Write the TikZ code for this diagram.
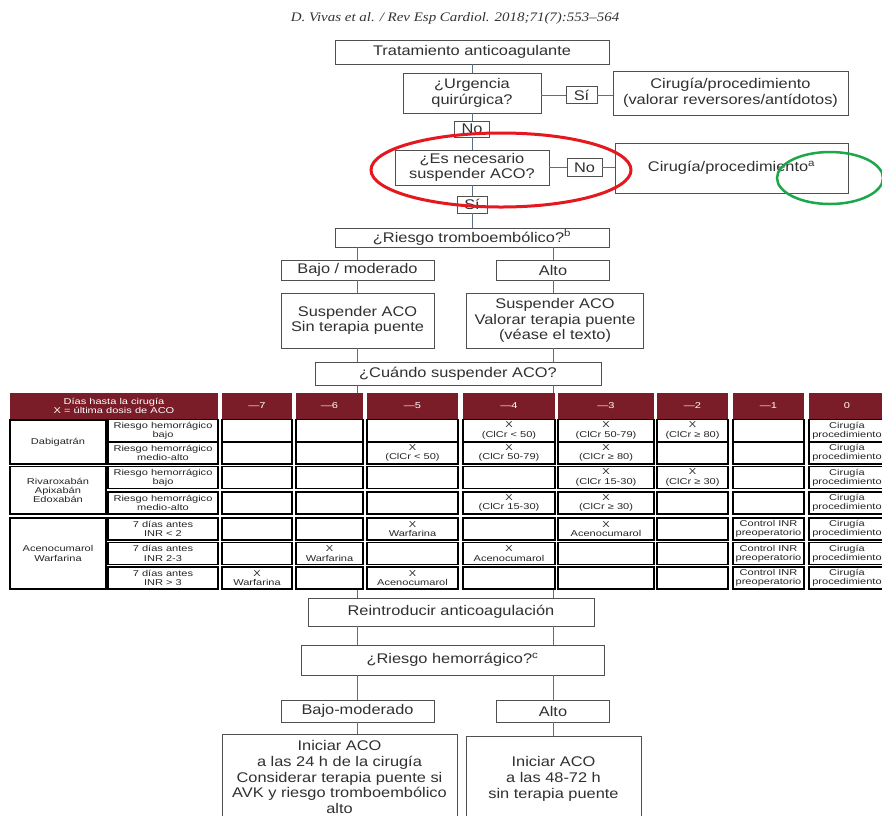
\documentclass[tikz,border=0pt]{standalone}
\usepackage{fontspec}
\setmainfont[FakeStretch=1.17]{Liberation Sans}
\newfontfamily\tabfont[FakeStretch=1.3]{Liberation Sans}
\newfontfamily\jrnfont[FakeStretch=1.15]{Liberation Serif}
\definecolor{boxgray}{HTML}{505050}
\definecolor{txtgray}{HTML}{303030}
\definecolor{linkblue}{HTML}{5E6E84}
\definecolor{acored}{HTML}{7A1D29}
\definecolor{markred}{HTML}{E5171F}
\definecolor{markgreen}{HTML}{1DA64A}
\tikzset{
  sz/.style 2 args={minimum width=#1pt,minimum height=#2pt},
  fbox/.style={draw=boxgray,line width=0.9pt,fill=white,text=txtgray,align=center,inner sep=1pt,font=\fontsize{14}{15.7}\selectfont},
  link/.style={draw=linkblue,line width=0.9pt},
  hcell/.style={fill=acored,text=white,align=center,inner sep=0pt,font=\tabfont\fontsize{8.5}{9.5}\selectfont},
  cell/.style={draw=black,line width=1.1pt,fill=white,text=black!85,align=center,inner sep=0pt,font=\tabfont\fontsize{8.5}{9.3}\selectfont},
  ctxt/.style={text=black!85,align=center,inner sep=0pt,font=\tabfont\fontsize{8.5}{9.3}\selectfont},
}
\begin{document}
\begin{tikzpicture}[x=1pt,y=-1pt]
    \fill[white] (0,0) rectangle (882,815);
    \useasboundingbox (0,0) rectangle (882,815);
    \node[font=\jrnfont\itshape\fontsize{13}{15}\selectfont,text=black!80] (jrnl) at (455,18) {D. Vivas et al. / Rev Esp Cardiol. 2018;71(7):553–564};
    % upper flow chart
    \node[fbox,sz={274}{24}] (trat) at (472,52) {Tratamiento anticoagulante};
    \node[fbox,sz={138}{40}] (urg) at (472,93) {¿Urgencia\\quirúrgica?};
    \node[fbox,sz={31}{17}] (si1) at (581.5,95) {Sí};
    \node[fbox,sz={235}{44}] (cir1) at (730.5,93) {Cirugía/procedimiento\\(valorar reversores/antídotos)};
    \node[fbox,sz={35}{16}] (no1) at (472,129) {No};
    \node[fbox,sz={154}{35}] (nec) at (472,167.5) {¿Es necesario\\suspender ACO?};
    \node[fbox,sz={35}{18}] (no2) at (584.5,167.5) {No};
    \node[fbox,sz={233}{50}] (cir2) at (731.5,168) {Cirugía/procedimiento\textsuperscript{a}};
    \node[fbox,sz={30}{17}] (si2) at (472,204.5) {Sí};
    \node[fbox,sz={274}{19}] (trombo) at (472,237.5) {¿Riesgo tromboembólico?\textsuperscript{b}};
    \node[fbox,sz={153}{20}] (bajo1) at (357.5,270) {Bajo / moderado};
    \node[fbox,sz={113}{20}] (alto1) at (553,270) {Alto};
    \node[fbox,sz={153}{55}] (susp1) at (357.5,320.5) {Suspender ACO\\Sin terapia puente};
    \node[fbox,sz={177}{55}] (susp2) at (555,320.5) {Suspender ACO\\Valorar terapia puente\\(véase el texto)};
    \node[fbox,sz={286}{23}] (cuando) at (458,373.5) {¿Cuándo suspender ACO?};
    \draw[link] (trat) -- (urg);
    \draw[link] (urg) -- (no1);
    \draw[link] (no1) -- (nec);
    \draw[link] (nec) -- (si2);
    \draw[link] (si2) -- (trombo);
    \draw[link] (urg.east |- si1.west) -- (si1.west);
    \draw[link] (si1.east) -- (cir1.west |- si1.east);
    \draw[link] (nec.east |- no2.west) -- (no2.west);
    \draw[link] (no2.east) -- (cir2.west |- no2.east);
    \draw[link] (trombo.south -| bajo1) -- (bajo1.north);
    \draw[link] (trombo.south -| alto1) -- (alto1.north);
    \draw[link] (bajo1) -- (susp1);
    \draw[link] (alto1.south) -- (alto1.south |- susp2.north);
    \draw[link] (susp1.south) -- (susp1.south |- cuando.north);
    \draw[link] (susp2.south -| alto1) -- (cuando.north -| alto1);
    % table
    \node[hcell,sz={208}{26}] (htit) at (114,406) {Días hasta la cirugía\\X = última dosis de ACO};
    \foreach \c/\xl/\xr/\lab in {m7/222/292/{—7},m6/296/363/{—6},m5/367/458/{—5},m4/463/555/{—4},m3/558/654/{—3},m2/657/728/{—2},m1/733/804/{—1},z/809/885/{0}}
        {\node[hcell,minimum width={(\xr-\xl)*1pt},minimum height=26pt] (h\c) at ({(\xl+\xr)/2},406) {\lab};}
    \node[cell,sz={96}{44}] (dabi) at (58,442) {Dabigatrán};
    \node[cell,sz={96}{47.5}] (rivx) at (58,490.25) {Rivaroxabán\\Apixabán\\Edoxabán};
    \node[cell,sz={96}{71}] (acen) at (58,553.5) {Acenocumarol\\Warfarina};
    \foreach \r/\yc/\sub in {1/430.5/{Riesgo hemorrágico\\bajo},2/453/{Riesgo hemorrágico\\medio-alto},3/477.5/{Riesgo hemorrágico\\bajo},4/503/{Riesgo hemorrágico\\medio-alto},5/529/{7 días antes\\INR < 2},6/553.5/{7 días antes\\INR 2-3},7/578/{7 días antes\\INR > 3}}{
        \node[cell,sz={110}{22}] (r\r a) at (163,\yc) {\sub};
        \foreach \c/\xl/\xr in {m7/222/292,m6/296/363,m5/367/458,m4/463/555,m3/558/654,m2/657/728,m1/733/804,z/809/885}
            {\node[cell,minimum width={(\xr-\xl)*1pt},minimum height=22pt] (r\r\c) at ({(\xl+\xr)/2},\yc) {};}
        \node[ctxt] (tr\r z) at (r\r z) {Cirugía\\procedimiento};
    }
    \foreach \r in {5,6,7}{\node[ctxt] (tr\r m1) at (r\r m1) {Control INR\\preoperatorio};}
    \foreach \cl/\tx in {r1m4/{X\\(ClCr < 50)},r1m3/{X\\(ClCr 50-79)},r1m2/{X\\(ClCr ≥ 80)},
        r2m5/{X\\(ClCr < 50)},r2m4/{X\\(ClCr 50-79)},r2m3/{X\\(ClCr ≥ 80)},
        r3m3/{X\\(ClCr 15-30)},r3m2/{X\\(ClCr ≥ 30)},
        r4m4/{X\\(ClCr 15-30)},r4m3/{X\\(ClCr ≥ 30)},
        r5m5/{X\\Warfarina},r5m3/{X\\Acenocumarol},
        r6m6/{X\\Warfarina},r6m4/{X\\Acenocumarol},
        r7m7/{X\\Warfarina},r7m5/{X\\Acenocumarol}}
        {\node[ctxt] (t\cl) at (\cl) {\tx};}
    \draw[link] (cuando.south -| bajo1) -- (hm6.north -| bajo1);
    \draw[link] (cuando.south -| alto1) -- (hm4.north -| alto1);
    % lower flow chart
    \node[fbox,sz={286}{28}] (reint) at (451,612) {Reintroducir anticoagulación};
    \node[fbox,sz={303}{30}] (hemo) at (452.5,660) {¿Riesgo hemorrágico?\textsuperscript{c}};
    \node[fbox,sz={153}{22}] (bajo2) at (357.5,711) {Bajo-moderado};
    \node[fbox,sz={113}{22}] (alto2) at (553,711) {Alto};
    \node[fbox,sz={235}{86}] (ini1) at (339.5,777) {Iniciar ACO\\a las 24 h de la cirugía\\Considerar terapia puente si\\AVK y riesgo tromboembólico\\alto};
    \node[fbox,sz={175}{86}] (ini2) at (553.5,779) {Iniciar ACO\\a las 48-72 h\\sin terapia puente};
    \draw[link] (r7m6.south -| bajo1) -- (reint.north -| bajo1);
    \draw[link] (r7m4.south -| alto1) -- (reint.north -| alto1);
    \draw[link] (reint.south -| bajo1) -- (hemo.north -| bajo1);
    \draw[link] (reint.south -| alto1) -- (hemo.north -| alto1);
    \draw[link] (hemo.south -| bajo2) -- (bajo2.north);
    \draw[link] (hemo.south -| alto2) -- (alto2.north);
    \draw[link] (bajo2.south) -- (bajo2.south |- ini1.north);
    \draw[link] (alto2.south) -- (alto2.south |- ini2.north);
    % highlight marks
    \draw[markred,line width=3pt] (501,170) ellipse [x radius=130pt,y radius=37pt];
    \draw[markgreen,line width=2.5pt] (830,178) ellipse [x radius=53pt,y radius=26pt];
\end{tikzpicture}
\end{document}
